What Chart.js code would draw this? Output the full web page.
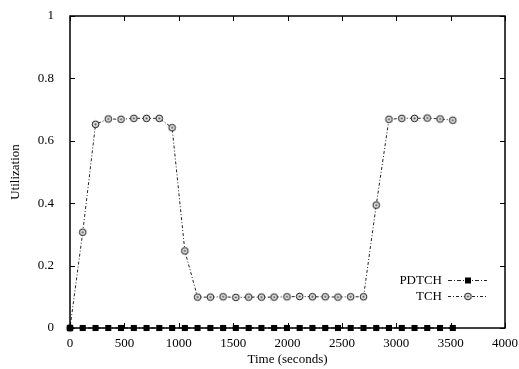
<!DOCTYPE html>
<html>
<head>
<meta charset="utf-8">
<script src="https://cdn.jsdelivr.net/npm/chart.js@4/dist/chart.umd.min.js"></script>
<style>
  html, body { margin: 0; padding: 0; background: #fff; }
  #wrap { width: 519px; height: 369px; position: relative; }
</style>
</head>
<body>
<div id="wrap"><canvas id="c" width="519" height="369"></canvas></div>
<script>
// ---- data ----
const times = [0, 117, 235, 352, 469, 587, 704, 821, 939, 1056, 1173, 1291, 1408, 1525, 1643, 1760,
               1877, 1995, 2112, 2229, 2347, 2464, 2581, 2699, 2816, 2933, 3051, 3168, 3285, 3403, 3520];
const pdtch = [0, 0, 0, 0, 0, 0, 0, 0, 0, 0, 0, 0, 0, 0, 0, 0,
               0, 0, 0, 0, 0, 0, 0, 0, 0, 0, 0, 0, 0, 0, 0];
const tch   = [0, 0.307, 0.653, 0.670, 0.669, 0.672, 0.672, 0.672, 0.642, 0.247,
               0.099, 0.099, 0.100, 0.098, 0.099, 0.099, 0.099, 0.100, 0.101, 0.100,
               0.100, 0.099, 0.100, 0.100, 0.394, 0.669, 0.672, 0.672, 0.673, 0.670, 0.666];
const seriesNames = ['PDTCH', 'TCH'];
const xTickValues = [0, 500, 1000, 1500, 2000, 2500, 3000, 3500, 4000];
const xTickLabels = ['0', '500', '1000', '1500', '2000', '2500', '3000', '3500', '4000'];
const yTickValues = [0, 0.2, 0.4, 0.6, 0.8, 1];
const yTickLabels = ['0', '0.2', '0.4', '0.6', '0.8', '1'];
const xTitle = 'Time (seconds)';
const yTitle = 'Utilization';

// ---- styles ----
const FONT = "'Liberation Serif', 'Times New Roman', serif";
const INK = '#000';

function circleDot() {
  const c = document.createElement('canvas');
  c.width = 11; c.height = 11;
  const g = c.getContext('2d');
  g.fillStyle = '#e8e8e8';
  g.beginPath(); g.arc(5.5, 5.5, 3.3, 0, Math.PI * 2); g.fill();
  g.strokeStyle = '#111'; g.lineWidth = 1;
  g.beginPath(); g.arc(5.5, 5.5, 3.3, 0, Math.PI * 2); g.stroke();
  g.fillStyle = '#444';
  g.beginPath(); g.arc(5.5, 5.5, 1.1, 0, Math.PI * 2); g.fill();
  return c;
}
const tchMarker = circleDot();

const pdtchDash = [4, 2, 1, 2];
const tchDash = [3, 2, 1, 2];

const framePlugin = {
  id: 'frame',
  afterDraw(chart) {
    const ctx = chart.ctx;
    const a = chart.chartArea;
    const xs = chart.scales.x, ys = chart.scales.y;
    ctx.save();
    ctx.strokeStyle = INK;
    ctx.lineWidth = 1;
    const TL = 5;
    ctx.beginPath();
    xs.ticks.forEach(t => {
      const px = Math.round(xs.getPixelForValue(t.value)) + 0.5;
      ctx.moveTo(px, a.bottom); ctx.lineTo(px, a.bottom - TL);
      ctx.moveTo(px, a.top); ctx.lineTo(px, a.top + TL);
    });
    ys.ticks.forEach(t => {
      const py = Math.round(ys.getPixelForValue(t.value)) + 0.5;
      ctx.moveTo(a.left, py); ctx.lineTo(a.left + TL, py);
      ctx.moveTo(a.right, py); ctx.lineTo(a.right - TL, py);
    });
    ctx.stroke();
    ctx.lineWidth = 1.5;
    ctx.strokeRect(a.left, a.top, a.right - a.left, a.bottom - a.top);

    // legend
    ctx.font = '13px ' + FONT;
    ctx.fillStyle = INK;
    ctx.textAlign = 'right';
    ctx.textBaseline = 'middle';
    const rows = [
      { name: seriesNames[0], y: 280, dash: pdtchDash, marker: 'rect' },
      { name: seriesNames[1], y: 296, dash: tchDash, marker: 'circ' }
    ];
    rows.forEach(r => {
      ctx.fillText(r.name, 442, r.y + 0.5);
      ctx.save();
      ctx.lineWidth = 1;
      ctx.strokeStyle = '#222';
      ctx.setLineDash(r.dash);
      ctx.beginPath();
      ctx.moveTo(448, r.y + 0.5); ctx.lineTo(487, r.y + 0.5);
      ctx.stroke();
      ctx.restore();
      if (r.marker === 'rect') {
        ctx.fillRect(465, r.y - 2.5, 6, 6);
      } else {
        ctx.drawImage(tchMarker, 468 - 5.5, r.y - 5);
      }
    });
    ctx.restore();
  }
};

const ctx = document.getElementById('c').getContext('2d');
new Chart(ctx, {
  type: 'line',
  data: {
    datasets: [
      {
        label: seriesNames[0],
        data: times.map((t, i) => ({ x: t, y: pdtch[i] })),
        borderColor: '#222', borderWidth: 1, borderDash: pdtchDash,
        pointStyle: 'rect', pointRadius: 4.3, pointBackgroundColor: '#000', pointBorderColor: '#000',
        pointBorderWidth: 0, tension: 0, clip: false
      },
      {
        label: seriesNames[1],
        data: times.map((t, i) => ({ x: t, y: tch[i] })),
        borderColor: '#222', borderWidth: 1, borderDash: tchDash,
        pointStyle: tchMarker, tension: 0, clip: false
      }
    ]
  },
  options: {
    responsive: false,
    animation: false,
    events: [],
    layout: { padding: { left: 0, right: 14, top: 16, bottom: 0 } },
    plugins: { legend: { display: false }, tooltip: { enabled: false } },
    scales: {
      x: {
        type: 'linear', min: 0, max: 4000,
        grid: { display: false }, border: { display: false },
        afterBuildTicks(s) { s.ticks = xTickValues.map(v => ({ value: v })); },
        afterFit(s) { s.height = 41; },
        ticks: {
          color: INK, font: { family: FONT, size: 13 }, padding: 0, maxRotation: 0,
          callback: (v) => { const i = xTickValues.indexOf(v); return i >= 0 ? xTickLabels[i] : ''; }
        },
        title: { display: true, text: xTitle, color: INK, font: { family: FONT, size: 13 }, padding: { top: 0, bottom: 2 } }
      },
      y: {
        type: 'linear', min: 0, max: 1,
        grid: { display: false }, border: { display: false },
        afterBuildTicks(s) { s.ticks = yTickValues.map(v => ({ value: v })); },
        afterFit(s) { s.width = 70; },
        ticks: {
          color: INK, font: { family: FONT, size: 13 }, padding: 8,
          callback: (v) => { const i = yTickValues.findIndex(u => Math.abs(u - v) < 1e-9); return i >= 0 ? yTickLabels[i] : ''; }
        },
        title: { display: true, text: yTitle, color: INK, font: { family: FONT, size: 13 }, padding: { top: 8, bottom: 0 } }
      }
    }
  },
  plugins: [framePlugin]
});
</script>
</body>
</html>
